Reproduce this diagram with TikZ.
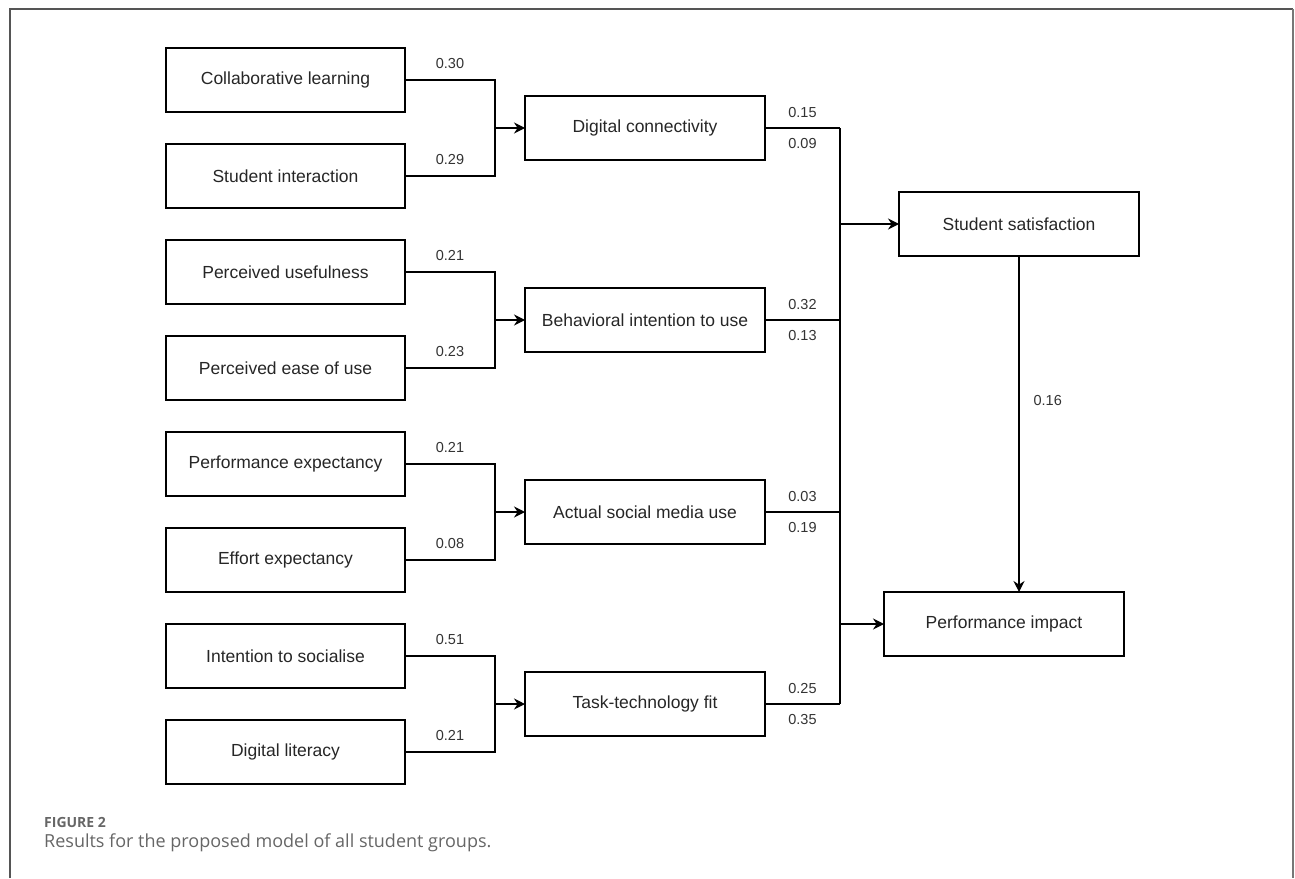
\documentclass[tikz,border=0pt]{standalone}
\usepackage{fontspec}
\setmainfont{Liberation Sans}
\newfontfamily\capfont{Open Sans}
\usepackage{tikz}
\usetikzlibrary{calc,positioning,arrows.meta}
\definecolor{capgray}{HTML}{666666}
\definecolor{framegray}{HTML}{555555}
\tikzset{
  line/.style={-{Stealth[length=11pt,width=11pt]}, line width=1.2pt},
  wire/.style={line width=1.2pt},
  box/.style={draw, line width=1.2pt, outer sep=0pt, align=center, inner sep=3pt, text=black!85,
    font=\fontsize{17.5}{20}\selectfont},
  inbox/.style={box, minimum width=239pt, minimum height=64pt},
  midbox/.style={box, minimum width=240pt, minimum height=64pt},
  outbox/.style={box, minimum width=240pt, minimum height=64pt},
  % path coefficients
  wt/.style={font=\fontsize{14.5}{16}\selectfont, text=black!80, inner sep=4pt}
}
\begin{document}
\begin{tikzpicture}[x=1pt, y=-1pt]
  \useasboundingbox (0,0) rectangle (1295,878);
  \draw[framegray, line width=1.2pt] (10,878) -- (10,9) -- (1293,9);
  \draw[framegray!80, line width=2pt] (1293,9) -- (1293,878);
  % left column
  \node[inbox] (collab) at (285.5,80) {Collaborative learning};
  \node[inbox, below=32pt of collab] (stuint) {Student interaction};
  \node[inbox, below=32pt of stuint] (useful) {Perceived usefulness};
  \node[inbox, below=32pt of useful] (ease) {Perceived ease of use};
  \node[inbox, below=32pt of ease] (perfexp) {Performance expectancy};
  \node[inbox, below=32pt of perfexp] (effort) {Effort expectancy};
  \node[inbox, below=32pt of effort] (social) {Intention to socialise};
  \node[inbox, below=32pt of social] (diglit) {Digital literacy};
  % middle column
  \node[midbox] (digcon) at (645,128) {Digital connectivity};
  \node[midbox, below=128pt of digcon] (behint) {Behavioral intention to use};
  \node[midbox, below=128pt of behint] (actual) {Actual social media use};
  \node[midbox, below=128pt of actual] (ttf) {Task-technology fit};
  % outcomes
  \node[outbox] (stusat) at (1019,224) {Student satisfaction};
  \node[outbox] (perfimp) at (1004,624) {Performance impact};
  % left joins
  \coordinate (j1) at ($(digcon.west)+(-30,0)$);
  \coordinate (j2) at ($(behint.west)+(-30,0)$);
  \coordinate (j3) at ($(actual.west)+(-30,0)$);
  \coordinate (j4) at ($(ttf.west)+(-30,0)$);
  \draw[wire] (collab.east) -| node[wt, pos=.25, above=7pt] {0.30} (j1);
  \draw[wire] (stuint.east) -| node[wt, pos=.25, above=7pt] {0.29} (j1);
  \draw[line] (j1) -- (digcon.west);
  \draw[wire] (useful.east) -| node[wt, pos=.25, above=7pt] {0.21} (j2);
  \draw[wire] (ease.east) -| node[wt, pos=.25, above=7pt] {0.23} (j2);
  \draw[line] (j2) -- (behint.west);
  \draw[wire] (perfexp.east) -| node[wt, pos=.25, above=7pt] {0.21} (j3);
  \draw[wire] (effort.east) -| node[wt, pos=.25, above=7pt] {0.08} (j3);
  \draw[line] (j3) -- (actual.west);
  \draw[wire] (social.east) -| node[wt, pos=.25, above=7pt] {0.51} (j4);
  \draw[wire] (diglit.east) -| node[wt, pos=.25, above=7pt] {0.21} (j4);
  \draw[line] (j4) -- (ttf.west);
  % right bus
  \coordinate (b1) at ($(digcon.east)+(75,0)$);
  \coordinate (b2) at ($(behint.east)+(75,0)$);
  \coordinate (b3) at ($(actual.east)+(75,0)$);
  \coordinate (b4) at ($(ttf.east)+(75,0)$);
  \draw[wire] (digcon.east) -- node[wt, above=6pt] {0.15} node[wt, below=6pt] {0.09} (b1);
  \draw[wire] (behint.east) -- node[wt, above=6pt] {0.32} node[wt, below=6pt] {0.13} (b2);
  \draw[wire] (actual.east) -- node[wt, above=6pt] {0.03} node[wt, below=6pt] {0.19} (b3);
  \draw[wire] (ttf.east) -- node[wt, above=6pt] {0.25} node[wt, below=6pt] {0.35} (b4);
  \draw[wire] (b1) -- (b4);
  \draw[line] (stusat.west -| b1) -- (stusat.west);
  \draw[line] (perfimp.west -| b1) -- (perfimp.west);
  \draw[line] (stusat.south) -- node[wt, pos=.43, right=10pt] {0.16} (stusat.south |- perfimp.north);
  % caption
  \node[anchor=base west, inner sep=0pt, text=capgray, font=\capfont\bfseries\fontsize{14}{16}\selectfont]
    (figno) at (44,827) {FIGURE 2};
  \node[anchor=base west, inner sep=0pt, text=capgray, font=\capfont\fontsize{18}{21}\selectfont]
    (figcap) at (44,847) {Results for the proposed model of all student groups.};
\end{tikzpicture}
\end{document}
